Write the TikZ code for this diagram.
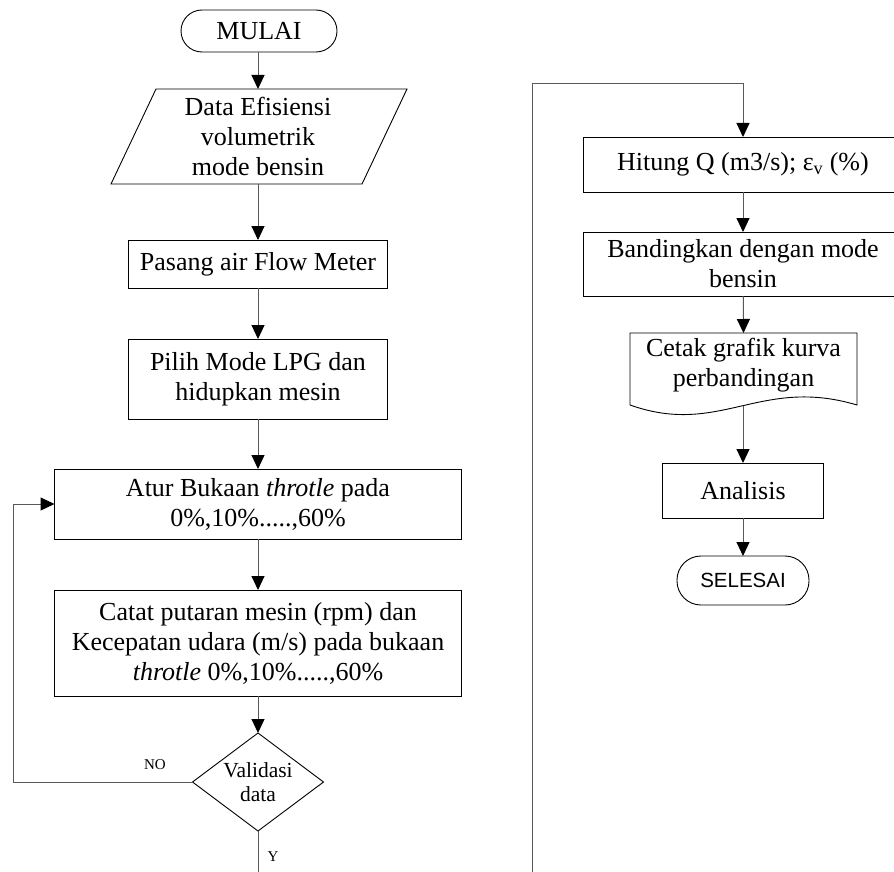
\documentclass[tikz,border=0pt]{standalone}
\usepackage{fontspec}
\setmainfont{Liberation Serif}
\newfontfamily\arialfont{Liberation Sans}
\usetikzlibrary{arrows.meta,shapes.geometric}
\begin{document}
\begin{tikzpicture}[x=1pt,y=-1pt,
 every node/.style={font=\fontsize{26}{30}\selectfont, inner sep=0pt, outer sep=0pt},
 box/.style={draw=black, line width=0.9pt, rectangle, align=center},
 conn/.style={draw=black!65, line width=1pt, -{Triangle[length=14pt,width=13pt,color=black]}},
 plain/.style={draw=black!65, line width=1pt},
 lab/.style={font=\fontsize{15}{18}\selectfont}
]
\useasboundingbox (0,0) rectangle (894,872);
\clip (0,0) rectangle (894,872);
% left column
\node[box, rounded corners=21pt, minimum width=156pt, minimum height=42pt] (mulai) at (259,31) {MULAI};
\node[minimum width=200pt, minimum height=95pt, align=center] (data) at (258,136.5) {Data Efisiensi\\volumetrik\\mode bensin};
\draw[line width=0.9pt] ([xshift=-147pt]data.south) -- ([xshift=-102pt]data.north) -- ([xshift=149pt]data.north) -- ([xshift=104pt]data.south) -- cycle;
\node[box, minimum width=259pt, minimum height=48pt] (pasang) at (258,264) {Pasang air Flow Meter};
\node[box, minimum width=259pt, minimum height=80pt] (pilih) at (258,379) {Pilih Mode LPG dan\\hidupkan mesin};
\node[box, minimum width=407pt, minimum height=70pt] (atur) at (258,504) {Atur Bukaan \textit{throtle} pada\\0\%,10\%.....,60\%};
\node[box, minimum width=407pt, minimum height=106pt] (catat) at (258,643) {Catat putaran mesin (rpm) dan\\Kecepatan udara (m/s) pada bukaan\\\textit{throtle} 0\%,10\%.....,60\%};
\node[diamond, draw, line width=0.9pt, minimum width=131pt, minimum height=98pt] (val) at (258,782) {};
\node[align=center, font=\fontsize{21.5}{24}\selectfont] (valtxt) at (258,782) {Validasi\\data};
\node[lab] (no) at (155,765) {NO};
\node[lab] (ylab) at (273,857) {Y};
\coordinate (yend) at (258,872);

\draw[conn] (mulai.south -| data.north) -- (data);
\draw[conn] (data) -- (pasang);
\draw[conn] (pasang) -- (pilih);
\draw[conn] (pilih) -- (atur);
\draw[conn] (atur) -- (catat);
\draw[conn] (catat) -- (val);
\draw[conn] (val.west) -- ++(-179,0) |- (atur.west);
\draw[plain] (val.south) -- (yend);

% right column
\coordinate (rb) at (532,872);
\coordinate (rt) at (532,84);
\node[box, minimum width=320pt, minimum height=55pt] (hitung) at (743,164.5) {Hitung Q (m3/s); ε\textsubscript{v} (\%)};
\node[box, minimum width=320pt, minimum height=64pt] (band) at (743,264) {Bandingkan dengan mode\\bensin};
\node[minimum width=227pt, minimum height=64pt, anchor=north, align=center] (cetak) at (743.5,333) {Cetak grafik kurva\\perbandingan};
\draw[line width=0.9pt] (cetak.north west) -- (cetak.north east) -- (857,405) .. controls (760,376) and (720,437) .. (630,405) -- cycle;
\coordinate (cb) at (743,406);
\node[box, minimum width=161pt, minimum height=55pt] (anal) at (743,490.5) {Analisis};
\node[box, rounded corners=24pt, minimum width=132pt, minimum height=49pt, font=\arialfont\fontsize{20.5}{24}\selectfont] (sel) at (743,580.5) {SELESAI};

\draw[conn] (rb) -- (rt) -| (hitung.north);
\draw[conn] (hitung) -- (band);
\draw[conn] (band) -- (cetak.north);
\draw[conn] (cb) -- (anal);
\draw[conn] (anal) -- (sel);
\end{tikzpicture}
\end{document}
